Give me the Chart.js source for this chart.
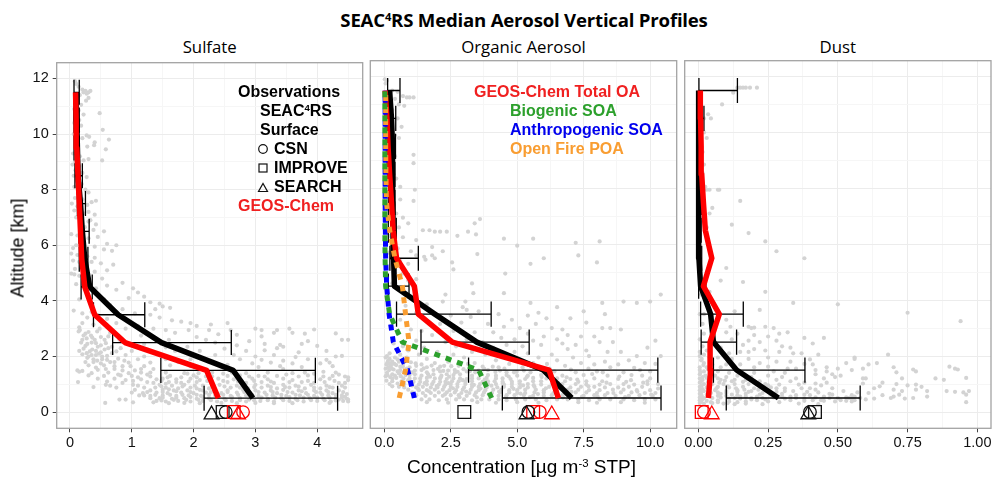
<!DOCTYPE html>
<html>
<head>
<meta charset="utf-8">
<script src="https://cdn.jsdelivr.net/npm/chart.js@4"></script>
<style>
    body { margin: 0; background: #fff; width: 992px; height: 478px; overflow: hidden; position: relative; }
    canvas { position: absolute; top: 50px; }
    .txt { position: absolute; white-space: nowrap; line-height: 1; }
    .title { font: bold 18.6px "Open Sans"; color: #000; left: 524px; top: 7px; transform: translateX(-50%); letter-spacing: -0.2px; }
    .title sup, .leg sup { font-size: 60%; line-height: 0; vertical-align: 0.55em; }
    .panelTitle { font: 16.8px "Open Sans"; color: #000; top: 35px; transform: translateX(-50%); }
    .xTitle { font: 19px "Liberation Sans"; color: #000; left: 521.5px; top: 456px; transform: translateX(-50%); }
    .xTitle sup { font-size: 60%; line-height: 0; vertical-align: 0.5em; }
    .yTitle { font: 18px "Liberation Sans"; color: #000; left: 18px; top: 248px; transform: translate(-50%, -50%) rotate(-90deg); }
    .leg { font: bold 16px "Liberation Sans"; color: #000; transform: translateY(-50%); }
    #legendMarks { position: absolute; left: 0; top: 0; }
</style>
</head>
<body>
<div class="txt title">SEAC<sup>4</sup>RS Median Aerosol Vertical Profiles</div>
<div class="txt panelTitle" style="left:209.7px">Sulfate</div>
<div class="txt panelTitle" style="left:523.5px">Organic Aerosol</div>
<div class="txt panelTitle" style="left:837.8px">Dust</div>
<canvas id="sulfateChart" width="368" height="428" style="left:0"></canvas>
<canvas id="organicChart" width="312" height="428" style="left:368px"></canvas>
<canvas id="dustChart" width="312" height="428" style="left:680px"></canvas>
<div class="txt xTitle">Concentration [µg m<sup>-3</sup> STP]</div>
<div class="txt yTitle">Altitude [km]</div>

<div class="txt leg" style="left:238px;top:92px">Observations</div>
<div class="txt leg" style="left:260px;top:111px">SEAC<sup>4</sup>RS</div>
<div class="txt leg" style="left:260px;top:130px">Surface</div>
<div class="txt leg" style="left:274px;top:149px">CSN</div>
<div class="txt leg" style="left:274px;top:168px">IMPROVE</div>
<div class="txt leg" style="left:274px;top:187px">SEARCH</div>
<div class="txt leg" style="left:238px;top:206px;color:#f02020">GEOS-Chem</div>
<div class="txt leg" style="left:474px;top:92px;color:#f02020">GEOS-Chem Total OA</div>
<div class="txt leg" style="left:510px;top:111px;color:#2ca02c">Biogenic SOA</div>
<div class="txt leg" style="left:510px;top:130px;color:#0000ee">Anthropogenic SOA</div>
<div class="txt leg" style="left:510px;top:149px;color:#f99d31">Open Fire POA</div>
<svg id="legendMarks" width="992" height="478" fill="none" stroke="#111" stroke-width="1.2">
    <circle cx="263" cy="149" r="4.3"></circle>
    <rect x="259" y="164" width="8" height="8"></rect>
    <path d="M258.5 191.5 L267.5 191.5 L263 183.5 Z"></path>
</svg>

<script>
const altitudes = [0.5, 1.5, 2.5, 3.5, 4.5, 5.5, 6.5, 7.5, 8.5, 9.5, 10.5, 11.5];

const sulfateObs = [2.96, 2.64, 1.48, 0.78, 0.32, 0.24, 0.2, 0.17, 0.13, 0.12, 0.11, 0.1];
const sulfateModel = [2.4, 2.21, 0.89, 0.4, 0.24, 0.19, 0.17, 0.15, 0.13, 0.11, 0.1, 0.09];
const sulfateLow = [2.17, 1.47, 0.69, 0.38, 0.18, 0.15, 0.145, 0.12, 0.08, 0.065, 0.065, 0.065];
const sulfateHigh = [4.33, 3.97, 2.61, 1.21, 0.36, 0.29, 0.31, 0.25, 0.2, 0.15, 0.15, 0.15];

const organicObs = [7.05, 5.98, 3.48, 1.9, 0.38, 0.35, 0.33, 0.32, 0.32, 0.3, 0.27, 0.2];
const organicModel = [6.55, 6.2, 2.56, 1.28, 1.13, 0.46, 0.33, 0.27, 0.2, 0.14, 0.1, 0.03];
const organicLow = [4.44, 3.17, 1.38, 0.46, 0.15, 0.21, 0.15, 0.15, 0.15, 0.18, 0.21, 0.125];
const organicHigh = [10.41, 10.29, 5.45, 4.02, 0.93, 1.28, 0.45, 0.4, 0.4, 0.42, 0.43, 0.59];
const biogenicSoa = [4.04, 3.55, 0.68, 0.2, 0.05, 0.03, 0.02, 0.02, 0.02, 0.02, 0.02, 0.02];
const anthroSoa = [1.13, 0.88, 0.34, 0.18, 0.09, 0.05, 0.04, 0.03, 0.03, 0.03, 0.03, 0.03];
const fireOa = [0.56, 0.8, 0.93, 0.8, 0.68, 0.4, 0.2, 0.08, 0.06, 0.05, 0.05, 0.05];

const dustObs = [0.287, 0.137, 0.054, 0.044, 0.008, 0.002, 0.001, 0.001, 0.001, 0.001, 0.001, 0.001];
const dustModel = [0.036, 0.044, 0.042, 0.075, 0.018, 0.048, 0.025, 0.018, 0.012, 0.01, 0.008, 0.007];
const dustLow = [0.1, 0.054, 0.01, 0.008, 0.001, 0.001, 0.001, 0.001, 0.001, 0.001, 0.002, 0.002];
const dustHigh = [0.58, 0.382, 0.137, 0.161, 0.027, 0.012, 0.01, 0.012, 0.012, 0.014, 0.02, 0.14];

// surface sites, order is CSN, IMPROVE, SEARCH
const sulfateSurfaceObs = [2.52, 2.47, 2.29];
const sulfateSurfaceModel = [2.8, 2.65, 2.72];
const organicSurfaceObs = [5.42, 3.01, 5.35];
const organicSurfaceModel = [5.85, 5.6, 6.3];
const dustSurfaceObs = [0.4, 0.418, 0.394];
const dustSurfaceModel = [0.02, 0.012, 0.048];

const sulfateTicks = [0, 0.5, 1, 1.5, 2, 2.5, 3, 3.5, 4, 4.5];
const organicTicks = [0, 1.25, 2.5, 3.75, 5, 6.25, 7.5, 8.75, 10];
const dustTicks = [0, 0.125, 0.25, 0.375, 0.5, 0.625, 0.75, 0.875, 1];
const altitudeTicks = [0, 1, 2, 3, 4, 5, 6, 7, 8, 9, 10, 11, 12];

// grey flight samples, [concentration, altitude]
const sulfateSamples = [
    [0.08,11.9],[0.1,11.8],[0.14,11.7],[0.2,11.6],[0.25,11.55],[0.3,11.5],[0.33,11.55],[0.27,11.45],[0.22,11.5],[0.16,11.4],[0.12,11.3],[0.3,11.3],[0.26,11.2],[0.1,11.1],[0.18,11.05],[0.07,10.9],[0.14,10.85],[0.48,10.75],[0.22,10.7],[0.1,10.6],[0.15,10.5],[0.07,10.4],[0.18,10.3],[0.09,10.2],[0.53,10.15],[0.13,10.1],[0.06,10],[0.27,9.95],[0.31,9.9],[0.63,9.8],[0.2,9.85],[0.4,9.7],[0.39,9.6],[0.28,9.55],[0.58,9.45],[0.1,9.4],[0.05,9.3],[0.16,9.2],[0.3,9.1],[0.52,9.05],[0.08,9],[0.22,9.05],
    [0.04,8.9],[0.15,8.85],[0.09,8.7],[0.2,8.6],[0.06,8.5],[0.27,8.45],[0.12,8.3],[0.19,8.2],[0.07,8.1],[0.25,8],[0.3,7.9],[0.13,7.85],[0.08,7.7],[0.2,7.65],[0.42,7.6],[0.35,7.55],[0.03,7.5],[0.28,7.45],[0.12,7.4],[0.07,7.25],[0.3,7.2],[0.22,7.15],[0.4,7.1],[0.1,7],[0.17,6.9],[0.3,6.85],[0.42,6.75],[0.24,6.65],[0.38,6.55],[0.55,6.5],[0.02,6.4],[0.12,6.35],[0.45,6.3],[0.3,6.25],[0.2,6.2],[0.6,6.05],[0.75,6],[0.1,6],[0.4,5.95],[0.05,5.9],[0.55,5.85],
    [0.33,6.9],[0.68,5.8],[0.02,5.7],[0.12,5.65],[0.28,5.6],[0.4,5.55],[0.05,5.45],[0.15,5.4],[0.35,5.4],[0.5,5.35],[0.7,5.3],[0.25,5.2],[0.08,5.15],[0.6,5.1],[0.4,5.05],[0.02,4.98],[0.07,4.95],[0.15,4.9],[0.3,4.85],[0.52,4.8],[0.22,4.7],[0.85,4.65],[0.1,4.6],[0.6,4.55],[0.42,4.45],[1.02,4.45],[0.75,4.4],[1.1,4.3],[1.2,4.15],[0.95,4.1],[0.3,4.2],[0.15,4.05],[0.55,4.05],[1.3,3.95],[1.45,3.9],[0.65,3.85],[1.5,3.8],[1.38,3.7],[0.85,3.7],[1.62,3.75],[0.35,3.6],[0.06,3.65],
    [0.2,3.55],[0.45,3.5],[1.05,3.55],[1.3,3.5],[0.28,3.4],[0.6,3.35],[1.45,3.4],[1.65,3.3],[1.8,3.25],[0.2,3.2],[0.38,3.15],[0.75,3.2],[1.1,3.1],[1.95,3.2],[2.05,3.1],[2.28,3.15],[2.55,3.2],[0.15,3.05],[0.48,3],[0.9,3],[1.35,3],[1.55,2.95],[1.92,2.95],[2.25,2.95],[2.6,2.95],[3,3],[3.1,2.95],[3.35,2.95],[3.55,3],[3.95,2.97],[0.14,2.9],[0.3,2.88],[0.65,2.85],[1.7,2.85],[2.4,2.8],[2.7,2.78],[3.3,2.85],[3.6,2.85],[3.8,2.82],[4.3,2.83],[0.22,2.75],[0.5,2.7],[1.15,2.75],[2.05,2.7],[3.1,2.72],
    [0.2,2.6],[0.4,2.6],[0.8,2.6],[1.6,2.6],[2.2,2.6],[2.9,2.55],[3.85,2.55],[4.4,2.6],[4.5,2.6],[0.35,2.5],[0.58,2.48],[1.2,2.45],[2.35,2.5],[2.7,2.4],[3.15,2.45],[3.45,2.35],[3.75,2.45],[0.25,2.38],[0.45,2.35],[0.68,2.35],[1.55,2.33],[1.9,2.35],[2.5,2.28],[3.35,2.3],[3.4,2.42],[4.0,2.38],[0.15,2.2],[0.32,2.18],[0.5,2.15],[0.75,2.18],[1,2.2],[1.35,2.15],[1.7,2.2],[2.1,2.2],[2.85,2.2],[3.15,2.22],[3.7,2.15],[4.15,2.2],[0.2,2.08],[0.42,2.05],[0.6,2.02],[0.9,2.05],[1.2,2],[2.35,2.05],[2.65,2.05],[3,2],[3.3,2.05],[3.65,1.98],[4.3,2],[4.4,2.02],
    [0.28,1.95],[0.52,1.9],[0.78,1.92],[1.1,1.9],[1.55,1.9],[1.95,1.9],[2.75,1.9],[3.1,1.88],[3.45,1.85],[3.85,1.9],[4.15,1.88],[0.38,1.8],[0.65,1.8],[0.95,1.78],[1.3,1.78],[1.75,1.8],[2.25,1.8],[2.95,1.75],[3.25,1.78],[3.6,1.75],[4.05,1.75],[4.2,1.78],[0.3,1.68],[0.55,1.68],[0.85,1.65],[1.2,1.65],[1.62,1.68],[1.95,1.65],[2.55,1.7],[3.05,1.62],[3.4,1.65],[3.75,1.62],[4.25,1.65],[0.12,1.5],[0.2,1.48],[0.45,1.52],[0.72,1.55],[1.05,1.5],[1.35,1.55],[3.45,1.55],[0.15,1.45],[0.35,1.4],[0.62,1.42],[1.15,1.42],[1.55,1.42],[1.85,1.4],[2.3,1.42],[2.85,1.4],[3.2,1.42],[3.6,1.4],[4.1,1.45],[4.3,1.42],
    [0.3,1.32],[0.55,1.3],[0.82,1.32],[1.0,1.3],[1.3,1.28],[1.62,1.3],[2,1.32],[2.2,1.28],[2.55,1.3],[2.75,1.32],[3.05,1.3],[3.35,1.3],[3.7,1.28],[3.85,1.32],[4.25,1.3],[4.45,1.28],[0.45,1.2],[0.72,1.2],[1.15,1.18],[1.5,1.2],[1.72,1.18],[1.95,1.2],[2.1,1.15],[2.4,1.2],[2.65,1.18],[2.95,1.2],[3.2,1.18],[3.45,1.2],[3.6,1.15],[4.05,1.18],[4.2,1.2],[4.5,1.15],[0.13,1.08],[0.6,1.1],[0.85,1.05],[1.25,1.08],[1.6,1.08],[1.8,1.05],[2.05,1.08],[2.3,1.05],[2.55,1.08],[2.85,1.05],[3.1,1.08],[3.3,1.05],[3.75,1.08],[3.95,1.05],[4.35,1.05],[0.58,0.98],[0.65,0.95],[1.02,0.98],[1.1,0.95],[1.45,0.98],[1.65,0.95],[1.85,0.98],[2.15,0.95],[2.42,0.98],[2.7,0.95],[3,0.98],[3.2,0.95],[3.45,0.98],[3.65,0.95],[3.9,0.98],[4.15,0.95],[4.4,0.95],
    [0.38,0.9],[0.75,0.88],[1.2,0.88],[1.55,0.88],[1.75,0.85],[1.95,0.88],[2.25,0.85],[2.6,0.88],[2.88,0.85],[3.1,0.88],[3.35,0.85],[3.55,0.88],[3.8,0.85],[4.05,0.85],[4.25,0.88],[1.05,0.8],[1.3,0.78],[1.5,0.8],[1.68,0.78],[1.9,0.78],[2.1,0.8],[2.35,0.78],[2.55,0.78],[2.8,0.8],[3,0.78],[3.25,0.78],[3.45,0.8],[3.7,0.78],[3.95,0.78],[4.15,0.78],[4.35,0.78],[1.0,0.7],[1.18,0.68],[1.4,0.7],[1.58,0.68],[1.8,0.7],[2,0.68],[2.2,0.7],[2.45,0.68],[2.7,0.7],[2.92,0.68],[3.15,0.7],[3.35,0.68],[3.6,0.7],[3.82,0.68],[4.05,0.7],[4.25,0.68],[1.12,0.6],[1.3,0.58],[1.5,0.6],[1.72,0.58],[1.92,0.6],[2.12,0.58],[2.35,0.6],[2.6,0.58],[2.85,0.6],[3.05,0.58],[3.28,0.6],[3.5,0.58],[3.72,0.6],[3.95,0.58],[4.18,0.6],[4.4,0.6],
    [1.45,0.5],[1.65,0.48],[1.85,0.5],[2.05,0.48],[2.25,0.5],[2.5,0.48],[2.75,0.5],[3.2,0.48],[3.42,0.5],[3.65,0.48],[3.88,0.5],[4.1,0.48],[4.3,0.5],[4.48,0.48],[1.4,0.4],[1.55,0.38],[1.75,0.4],[1.95,0.38],[2.15,0.4],[2.38,0.38],[2.62,0.4],[2.85,0.38],[3.08,0.4],[3.3,0.38],[3.55,0.4],[3.78,0.38],[4.0,0.4],[4.22,0.38],[4.42,0.4],[4.5,0.45],[4.35,0.45],[4.45,0.55],[1.35,0.35],[1.6,0.32],[1.85,0.33],[2.1,0.32],[2.45,0.33],[2.7,0.32],[3.0,0.33],[3.3,0.32],[3.6,0.32],[4.2,0.33],[0.57,0.33],[0.8,0.45],[0.9,0.45],[1.02,0.35],[1.3,0.5],[1.2,0.6],
    [0.16,2.95],[0.25,2.82],[0.34,2.75],[0.44,2.9],[0.27,2.65],[0.36,2.68],[0.56,2.6],[0.62,2.72],[0.18,2.5],[0.28,2.45],[0.42,2.48],[0.5,2.4],[0.62,2.3],[0.22,2.28],[0.36,2.25],[0.42,2.2],[0.56,2.25],[0.27,2.12],[0.35,2.05],[0.47,2.1],[0.68,2.12],[0.82,2.3],[0.3,2],[0.52,2.0],[0.38,1.9],[0.44,1.85],[0.6,1.88],[0.72,1.8],[0.88,1.85],[0.25,1.8],[0.5,1.75],[0.98,1.65],[0.72,1.65],[0.42,1.6],[0.58,1.55],[0.85,1.5],[1.15,1.55],[1.3,1.42],[0.95,1.4],[0.78,1.35],[1.1,1.25],[1.4,1.18],[1.25,1.35],[0.9,1.15],[1.02,1.12],[1.35,1.05],[1.48,1.12],[1.58,1.25],[1.8,1.25],[1.9,1.38],[2.08,1.4],[2.05,1.25],[2.3,1.28],[2.48,1.38],[2.62,1.42],[2.9,1.28],[3.15,1.28],[3.5,1.35],[3.8,1.42],[3.95,1.38],[4.1,1.28],[4.35,1.35],[4.5,1.25],[1.55,1.02],[1.72,1.08],[1.92,1.1],[2.22,1.12],[2.48,1.12],[2.72,1.1],[2.98,1.12],[3.25,1.1],[3.55,1.08],[3.85,1.12],[4.12,1.08],[4.28,1.12],[4.45,1.05],
    [1.38,0.88],[1.48,0.92],[1.6,0.82],[1.82,0.92],[2.02,0.95],[2.05,0.85],[2.3,0.92],[2.5,0.92],[2.75,0.88],[2.98,0.9],[3.25,0.9],[3.48,0.9],[3.7,0.92],[3.95,0.88],[4.2,0.9],[4.45,0.88],[1.25,0.72],[1.5,0.72],[1.72,0.75],[1.95,0.72],[2.15,0.78],[2.28,0.72],[2.55,0.72],[2.82,0.72],[3.05,0.72],[3.28,0.72],[3.52,0.72],[3.75,0.75],[3.98,0.72],[4.18,0.72],[4.42,0.72],[1.38,0.62],[1.62,0.62],[1.82,0.62],[2.05,0.62],[2.25,0.62],[2.48,0.62],[2.72,0.62],[2.95,0.62],[3.18,0.62],[3.42,0.62],[3.65,0.62],[3.85,0.62],[4.08,0.62],[4.3,0.62],[4.48,0.65],[1.5,0.52],[1.72,0.52],[1.95,0.54],[2.15,0.54],[2.4,0.54],[2.62,0.54],[2.9,0.45],[3.1,0.52],[3.32,0.52],[3.55,0.54],[3.78,0.52],[4,0.52],[4.2,0.52],[4.4,0.52],[1.48,0.42],[1.68,0.44],[1.88,0.44],[2.08,0.44],[2.28,0.43],[2.52,0.43],[2.75,0.43],[2.98,0.43],[3.2,0.43],[3.45,0.43],[3.68,0.43],[3.9,0.43],[4.12,0.43],[4.3,0.42],[4.5,0.38]
];

const organicSamples = [
    [0.02,11.9],[0.1,11.85],[0.05,11.75],[0.3,11.5],[0.5,11.45],[0.7,11.3],[0.85,11.25],[1.1,11.25],[0.4,11.2],[0.95,11.25],[0.2,11.05],[0.55,11],[0.75,10.95],[0.3,10.8],[0.15,10.75],[0.5,10.5],[0.65,10.2],[0.25,10.1],[0.4,9.9],[0.55,9.8],[0.2,9.7],[0.3,9.5],[1.1,9.2],[0.4,9.15],[1.1,8.9],[0.25,8.7],[0.35,8.5],[0.15,8.4],[0.45,8.35],[0.2,8.2],[0.6,8.05],[1.15,7.95],[0.25,7.8],[0.6,7.6],[1.1,7.55],[0.35,7.4],[0.2,7.25],[0.45,7.1],[0.7,6.95],[3.6,6.9],[0.35,6.8],[0.9,6.75],[3.4,6.75],[0.55,6.6],[1.45,6.5],[1.7,6.5],[1.9,6.45],[2.1,6.45],[2.35,6.45],[3.15,6.45],[3.45,6.35],
    [0.2,6.3],[0.7,6.25],[1.2,6.15],[2.75,6.3],[4.5,6.2],[5.6,6.2],[1.8,5.9],[0.5,5.85],[1,5.75],[0.15,5.7],[7.2,6.05],[2.2,5.75],[5,5.95],[8.1,6.1],[1.2,5.6],[1.5,5.55],[1.9,5.5],[1.55,5.45],[1.8,5.6],[0.6,5.4],[0.9,5.3],[2.55,5.35],[2.6,5.1],[3.5,5.65],[7.3,5.6],[6,5.5],[0.4,5.1],[0.7,4.95],[4.55,4.95],[5.5,5.3],[8,5.35],[0.3,4.6],[0.9,4.7],[1.2,4.75],[3.3,4.6],[3.35,4.25],[1.1,4.45],[0.6,4.35],[2.3,4.2],[3.05,3.95],[2.2,3.95],[1.6,3.85],[2.95,3.75],[3.1,3.65],[3.55,3.6],[4.5,4.25],[5.5,3.9],[6.5,3.75],[7.5,3.6],[5.8,3.55],[9,3.95],[9.5,3.9],[10,3.95],[10.4,4.2],[8.2,3.9],
    [0.8,3.8],[1.2,3.55],[1.9,3.5],[2.5,3.45],[3.25,3.4],[4.3,3.5],[4.8,3.3],[5.4,3.45],[6.1,3.35],[7,3.35],[7.6,3.2],[8.3,3.5],[0.6,3.3],[1.6,3.25],[2.1,3.15],[2.9,3.2],[3.9,3.15],[4.5,3.05],[5.1,3],[5.7,3.15],[6.3,3],[6.7,2.95],[8.2,3],[8.5,3],[8.9,2.95],[0.3,3.05],[1,2.95],[1.4,2.9],[2.6,2.9],[3.4,2.85],[4.1,2.85],[5.4,2.8],[6,2.7],[6.9,2.75],[7.4,2.7],[7.9,2.7],[0.5,2.8],[0.9,2.7],[1.8,2.75],[3.1,2.6],[4.4,2.65],[4.9,2.6],[5.6,2.55],[6.5,2.6],[8.1,2.5],[8.6,2.5],[1.2,2.55],[2.3,2.5],[3.7,2.5],[4.6,2.4],[5.2,2.35],[5.9,2.4],[6.7,2.45],[7.2,2.4],[10.2,2.55],
    [0.35,2.45],[0.7,2.35],[1.5,2.3],[2.7,2.35],[4.1,2.3],[6.9,2.25],[7.6,2.2],[8.4,2.15],[9.9,2.3],[0.9,2.2],[2,2.15],[3.3,2.15],[4.9,2.15],[5.4,2.1],[6.3,2.05],[8.9,2.15],[0.2,2.1],[0.6,2.05],[1.3,2.05],[2.6,2.05],[3.8,2.05],[4.6,2],[5.8,1.95],[7.1,1.95],[7.7,2],[9.5,2],[10.4,2],[0.1,2],[0.4,1.95],[0.85,1.95],[1.6,1.9],[3,1.95],[4.2,1.85],[5.1,1.85],[6.5,1.85],[8.3,1.8],[9.2,1.85],[0.15,1.85],[0.3,1.8],[0.55,1.8],[1,1.78],[1.9,1.75],[2.4,1.8],[3.4,1.75],[4.7,1.72],[5.6,1.75],[7.4,1.75],[7.9,1.7],[8.8,1.7],[9.8,1.75],[10.2,1.72],
    [0.08,1.7],[0.25,1.65],[0.45,1.68],[0.7,1.62],[1.2,1.65],[1.6,1.6],[2.1,1.62],[2.8,1.65],[3.7,1.62],[4.3,1.6],[5.2,1.6],[6.8,1.65],[8.5,1.6],[9.4,1.58],[0.05,1.55],[0.18,1.5],[0.35,1.52],[0.6,1.5],[0.9,1.48],[1.4,1.5],[1.85,1.5],[2.4,1.48],[3.1,1.45],[4.6,1.42],[5.5,1.42],[6.4,1.45],[7.2,1.42],[8,1.45],[9,1.42],[10,1.45],[0.1,1.4],[0.3,1.35],[0.55,1.38],[0.8,1.32],[1.15,1.35],[1.65,1.35],[2.15,1.3],[2.6,1.32],[3.3,1.3],[3.9,1.32],[4.2,1.3],[5,1.3],[5.9,1.32],[6.7,1.3],[7.5,1.32],[8.4,1.3],[9.3,1.32],[9.7,1.3],[0.05,1.28],[0.22,1.25],[0.45,1.22],[0.95,1.2],[1.35,1.2],[1.9,1.2],[2.35,1.18],[2.85,1.2],[3.55,1.2],[4.45,1.2],[5.3,1.18],[6.1,1.2],[7,1.18],[7.9,1.2],[8.8,1.18],[10,1.2],
    [0.08,1.12],[0.3,1.1],[0.65,1.1],[1.1,1.08],[1.6,1.1],[2.1,1.08],[2.55,1.1],[3.05,1.08],[3.7,1.08],[4.15,1.1],[4.8,1.08],[5.6,1.1],[6.4,1.08],[7.3,1.08],[8.2,1.1],[9.1,1.08],[9.9,1.1],[0.2,1],[0.75,1],[1.3,0.98],[1.8,1],[2.3,0.98],[2.75,1],[3.3,0.98],[3.9,1],[4.5,0.98],[5.1,1],[5.9,0.98],[6.7,1],[7.6,0.98],[8.5,1],[9.4,0.98],[10.3,1],[0.3,0.92],[0.55,0.9],[1.45,0.9],[2,0.88],[2.5,0.9],[3,0.88],[3.55,0.9],[4.25,0.88],[4.8,0.9],[5.4,0.88],[6.2,0.9],[7,0.88],[7.9,0.9],[8.8,0.88],[9.7,0.9],[0.9,0.8],[1.6,0.78],[2.2,0.8],[2.7,0.78],[3.25,0.8],[3.8,0.78],[4.4,0.8],[5,0.78],[5.7,0.8],[6.5,0.78],[7.3,0.8],[8.1,0.78],[9,0.8],[10,0.78],
    [1.05,0.7],[1.75,0.68],[2.35,0.7],[2.9,0.68],[3.45,0.7],[4.05,0.68],[4.7,0.7],[5.3,0.68],[6,0.7],[6.8,0.68],[7.6,0.7],[8.4,0.68],[9.3,0.7],[10.2,0.68],[1.2,0.6],[1.9,0.58],[2.5,0.6],[3.1,0.58],[3.7,0.6],[4.3,0.58],[4.9,0.6],[5.6,0.58],[6.3,0.6],[7,0.58],[7.9,0.6],[8.7,0.58],[9.6,0.6],[1.4,0.45],[2.05,0.42],[2.7,0.45],[3.3,0.42],[3.95,0.45],[4.6,0.42],[5.3,0.45],[6.1,0.42],[6.9,0.45],[7.7,0.42],[8.5,0.45],[9.4,0.42],[10.2,0.45],[1.6,0.35],[2.4,0.33],[3.5,0.35],[4.2,0.33],[5,0.35],[5.8,0.33],[7.3,0.35],[8,0.33],[8.9,0.35],[9.8,0.33],
    [0.05,1.95],[0.2,1.9],[0.5,1.88],[0.7,1.72],[0.12,1.78],[0.2,1.72],[0.38,1.72],[0.6,1.62],[0.95,1.6],[1.4,1.7],[2.25,1.65],[3.25,1.6],[0.15,1.6],[0.28,1.55],[0.5,1.45],[0.72,1.42],[1.15,1.48],[1.6,1.42],[2.1,1.45],[2.65,1.5],[3.55,1.48],[3.9,1.5],[4.35,1.48],[0.12,1.32],[0.4,1.3],[0.95,1.32],[1.4,1.3],[1.85,1.35],[2.35,1.35],[2.85,1.35],[3.6,1.35],[4.6,1.32],[5.4,1.3],[0.3,1.2],[0.72,1.2],[1.15,1.2],[1.6,1.22],[2.1,1.2],[2.6,1.2],[3.1,1.18],[3.3,1.2],[3.85,1.22],[4.2,1.2],[4.75,1.18],[5.6,1.22],[6.5,1.2],[0.5,1.02],[1,1.08],[1.35,1.08],[1.85,1.08],[2.3,1.08],[2.8,1.1],[3.3,1.1],[3.9,1.1],[4.45,1.08],[5.1,1.1],[5.9,1.1],[6.8,1.1],[7.6,1.1],[1.05,0.95],[1.6,0.98],[2.05,0.98],[2.5,1],[3.05,1],[3.6,1],[4.2,1],[4.8,1],[5.4,1],[6.3,1],[7.2,1],[8.1,0.98],[9,1],[9.9,1],
    [0.75,0.88],[1.2,0.88],[1.75,0.88],[2.25,0.9],[2.75,0.9],[3.3,0.9],[3.85,0.88],[4.5,0.9],[5.1,0.88],[5.65,0.9],[6.6,0.88],[7.4,0.9],[8.3,0.88],[9.2,0.9],[1.3,0.78],[1.9,0.8],[2.45,0.78],[2.95,0.8],[3.55,0.78],[4.1,0.8],[4.7,0.78],[5.3,0.8],[6,0.78],[6.9,0.8],[7.7,0.78],[8.6,0.8],[9.5,0.78],[1.45,0.68],[2.05,0.7],[2.65,0.7],[3.2,0.68],[3.75,0.7],[4.35,0.7],[5,0.68],[5.65,0.7],[6.4,0.68],[7.2,0.7],[8,0.68],[8.9,0.7],[9.8,0.68],[1.55,0.58],[2.2,0.58],[2.8,0.6],[3.4,0.6],[4,0.6],[4.6,0.6],[5.25,0.6],[6,0.58],[6.7,0.6],[7.5,0.58],[8.3,0.6],[9.2,0.58],[10.1,0.58],[1.7,0.45],[2.35,0.45],[3,0.45],[3.65,0.45],[4.3,0.45],[4.95,0.45],[5.7,0.45],[6.5,0.45],[7.3,0.45],[8.1,0.45],[9,0.45],[9.8,0.45],
    [0.9,1.14],[1.27,0.83],[1.52,1.03],[1.68,0.74],[1.97,0.93],[2.12,1.24],[2.28,0.63],[2.41,1.03],[2.58,0.85],[2.66,1.41],[2.83,0.53],[2.95,1.14],[3.08,0.73],[3.22,1.46],[3.37,0.97],[3.48,0.52],[3.62,0.84],[3.78,1.16],[3.93,0.63],[4.03,0.94],[4.18,1.43],[4.32,0.73],[4.46,1.03],[4.58,0.53],[4.68,1.27],[4.86,0.83],[4.98,1.44],[5.12,0.66],[5.22,0.95],[5.36,1.25],[5.48,0.53],[5.62,0.96],[5.78,0.64],[5.92,1.25],[6.08,0.85],[6.22,1.55],[6.36,0.68],[6.54,1.04],[6.72,0.52],[6.86,1.24],[7.04,0.72],[7.26,1.16],[7.44,0.55],[7.68,0.92],[7.82,1.36],[8.02,0.56],[8.36,1.05],[8.62,0.68],[8.84,1.27],[9.06,0.53],[9.28,1.14],[9.52,0.73],[9.74,1.05],[10.04,0.62],[10.3,0.84],[0.28,1.75],[0.62,1.28],[0.85,1.55],[1.05,1.42],[1.18,1.74],[1.48,1.56],[1.72,1.26],[1.78,1.66],[2.02,1.54],[2.22,1.47],[2.44,1.26],[2.52,1.64],[2.76,1.44],[2.98,1.53],[3.15,1.72],[3.42,1.42],[3.76,1.54],[4.08,1.62],[4.52,1.55],[4.88,1.42],[5.25,1.48],[5.72,1.58],[6.12,1.72],[7.02,1.52],[7.68,1.55],[8.22,1.42],[9.62,1.5]
];

const dustSamples = [
    [0.14,11.6],[0.15,11.6],[0.16,11.6],[0.17,11.6],[0.185,11.6],[0.21,11.6],[0.125,11.42],[0.085,11],[0.035,10.65],[0.045,10.5],[0.02,10.5],[0.02,10],[0.03,9.8],[0.015,9.3],[0.02,8.85],[0.015,8.55],[0.025,8.05],[0.03,7.95],[0.04,7.95],[0.07,7.95],[0.075,7.95],[0.15,7.55],[0.05,7.3],[0.04,7.1],[0.02,7],[0.03,6.6],[0.12,6.7],[0.18,6.4],[0.24,6.1],[0.38,5.5],[0.28,5.75],[0.05,5.5],[0.1,5.15],[0.03,5],[0.08,4.7],[0.16,4.65],[0.24,4.3],[0.04,4.3],[0.01,4.2],[0.34,3.9],[0.5,3.85],[0.75,3.55],[0.94,3.25],[0.22,3.65],[0.13,3.6],[0.005,3.5],[0.02,3.5],
    [0.1,3.3],[0.18,3.05],[0.24,3.05],[0.27,3],[0.015,3.15],[0.06,3.1],[0.115,3.05],[0.19,3],[0.2,3.02],[0.29,2.8],[0.32,2.85],[0.38,2.65],[0.45,2.65],[0.1,2.85],[0.14,2.8],[0.2,2.75],[0.25,2.7],[0.28,2.55],[0.41,2.45],[0.22,2.5],[0.18,2.55],[0.16,2.4],[0.3,2.35],[0.33,2.3],[0.12,2.6],[0.02,2.8],[0.005,2.6],[0.015,2.35],[0.06,2.5],[0.08,2.3],[0.2,2.25],[0.24,2.2],[0.29,2.15],[0.34,2.1],[0.37,2.1],[0.43,2.05],[0.68,2.05],[0.56,1.95],[0.11,2.1],[0.15,2.15],[0.18,2.15],[0.005,2.15],[0.02,2.05],[0.03,2.2],
    [0.005,2],[0.04,1.95],[0.07,1.95],[0.12,1.9],[0.18,1.9],[0.25,1.95],[0.4,1.88],[0.56,1.9],[0.22,1.75],[0.28,1.8],[0.33,1.8],[0.38,1.72],[0.41,1.7],[0.53,1.75],[0.61,1.7],[0.64,1.75],[0.9,1.62],[0.92,1.55],[0.93,1.52],[0.7,1.6],[0.46,1.6],[0.01,1.85],[0.02,1.75],[0.05,1.7],[0.1,1.7],[0.15,1.7],[0.005,1.6],[0.03,1.6],[0.08,1.6],[0.13,1.55],[0.2,1.6],[0.25,1.62],[0.32,1.55],[0.35,1.55],[0.42,1.5],[0.46,1.45],[0.5,1.55],[0.55,1.5],[0.59,1.55],[0.71,1.42],[0.77,1.52],[0.78,1.45],[0.005,1.5],[0.02,1.45],[0.04,1.4],[0.07,1.45],
    [0.11,1.4],[0.15,1.45],[0.2,1.4],[0.27,1.45],[0.31,1.4],[0.42,1.35],[0.48,1.35],[0.49,1.25],[0.51,1.3],[0.59,1.2],[0.6,1.2],[0.73,1.2],[0.85,1.2],[0.88,1.15],[0.96,1.22],[0.005,1.35],[0.025,1.3],[0.06,1.3],[0.1,1.25],[0.14,1.3],[0.19,1.25],[0.25,1.3],[0.3,1.25],[0.35,1.2],[0.45,1.2],[0.005,1.2],[0.015,1.15],[0.04,1.15],[0.08,1.15],[0.12,1.1],[0.17,1.15],[0.22,1.1],[0.28,1.15],[0.33,1.1],[0.38,1.05],[0.42,1.02],[0.46,1.05],[0.59,1.02],[0.66,1.05],[0.71,1],[0.75,0.95],[0.78,0.98],[0.8,0.9],[0.005,1.05],[0.02,1],[0.05,1],[0.09,1],[0.13,1],[0.18,1],[0.24,1],[0.29,0.98],[0.36,0.98],[0.44,0.95],
    [0.005,0.9],[0.03,0.88],[0.07,0.9],[0.11,0.88],[0.16,0.9],[0.2,0.85],[0.26,0.88],[0.31,0.85],[0.37,0.85],[0.42,0.8],[0.48,0.85],[0.52,0.75],[0.63,0.85],[0.65,0.92],[0.7,0.8],[0.73,0.75],[0.78,0.8],[0.82,0.75],[0.89,0.75],[0.92,0.72],[0.95,0.7],[0.97,0.75],[0.005,0.78],[0.02,0.75],[0.06,0.78],[0.1,0.75],[0.14,0.78],[0.19,0.75],[0.24,0.78],[0.28,0.72],[0.34,0.75],[0.39,0.72],[0.43,0.7],[0.47,0.65],[0.55,0.6],[0.57,0.7],[0.61,0.68],[0.66,0.6],[0.7,0.55],[0.72,0.62],[0.005,0.65],[0.03,0.62],[0.08,0.65],[0.12,0.62],[0.17,0.65],[0.22,0.62],[0.3,0.65],[0.35,0.6],[0.4,0.6],[0.45,0.55],[0.5,0.5],[0.53,0.52],
    [0.005,0.52],[0.02,0.5],[0.05,0.5],[0.08,0.52],[0.13,0.5],[0.15,0.48],[0.19,0.5],[0.23,0.5],[0.27,0.52],[0.31,0.48],[0.35,0.5],[0.38,0.48],[0.42,0.52],[0.47,0.5],[0.55,0.48],[0.58,0.5],[0.6,0.45],[0.63,0.48],[0.69,0.5],[0.74,0.48],[0.77,0.5],[0.82,0.55],[0.96,0.62],[0.005,0.42],[0.03,0.4],[0.07,0.42],[0.11,0.38],[0.14,0.35],[0.17,0.38],[0.21,0.42],[0.25,0.38],[0.29,0.35],[0.33,0.42],[0.38,0.4],[0.44,0.42],[0.49,0.38],[0.53,0.4],[0.56,0.42],[0.005,0.32],[0.02,0.3],[0.05,0.32],[0.09,0.3],[0.13,0.28],[0.17,0.3],[0.23,0.28],[0.36,0.3],[0.43,0.28],[0.96,0.35],
    [0.012,1.9],[0.018,1.68],[0.008,1.42],[0.015,1.25],[0.01,1.1],[0.012,0.95],[0.015,0.82],[0.01,0.7],[0.012,0.58],[0.015,0.46],[0.01,0.36],[0.035,1.52],[0.03,1.22],[0.035,1.08],[0.04,0.95],[0.04,0.82],[0.045,0.68],[0.04,0.55],[0.045,0.35],[0.07,1.2],[0.075,1.05],[0.065,0.85],[0.07,0.7],[0.07,0.58],[0.07,0.35],[0.095,1.12],[0.105,0.92],[0.1,0.68],[0.1,0.58],[0.11,0.48],[0.105,0.32],[0.13,1.15],[0.135,0.85],[0.14,0.72],[0.14,0.6],[0.15,0.55],[0.16,1.08],[0.165,0.8],[0.17,0.55],[0.18,0.72],[0.19,0.45],[0.2,1.1],[0.215,0.8],[0.21,0.55],[0.23,0.68],[0.24,0.45],[0.25,0.95],[0.26,0.62],[0.28,0.85],[0.3,0.55],[0.31,0.75],[0.33,0.55],[0.38,0.62],[0.4,0.85],[0.41,0.42],[0.45,0.4],[0.48,0.62],[0.51,0.42],[0.54,0.5],[0.55,0.38],[0.56,0.55]
];

const SAMPLE_GREY = '#d3d3d3';
const OBS_BLACK = '#000000';
const MODEL_RED = '#ff0000';
const GRID_MAJOR = '#ececec';
const GRID_MINOR = '#f6f6f6';
const BORDER_GREY = '#a3a3a3';
const ERROR_CAP = 0.45;

function toPoints(values) {
    return values.map((value, i) => ({ x: value, y: altitudes[i] }));
}

function errorBars(low, high) {
    let points = [];
    altitudes.forEach((alt, i) => {
        points.push({ x: low[i], y: alt - ERROR_CAP }, { x: low[i], y: alt + ERROR_CAP }, { x: NaN, y: NaN });
        points.push({ x: low[i], y: alt }, { x: high[i], y: alt }, { x: NaN, y: NaN });
        points.push({ x: high[i], y: alt - ERROR_CAP }, { x: high[i], y: alt + ERROR_CAP }, { x: NaN, y: NaN });
    });
    return {
        data: points,
        showLine: true,
        borderColor: '#000',
        borderWidth: 1.3,
        pointRadius: 0
    };
}

function profileLine(values, color, width, dash) {
    return {
        data: toPoints(values),
        showLine: true,
        borderColor: color,
        borderWidth: width,
        borderDash: dash || [],
        borderJoinStyle: 'round',
        pointRadius: 0
    };
}

function surfaceMarks(values, color) {
    return {
        data: [
            { x: values[0], y: 0 },
            { x: values[1], y: 0 },
            { x: values[2], y: -0.09 }
        ],
        showLine: false,
        pointStyle: ['circle', 'rect', 'triangle'],
        pointRadius: [6.3, 9, 8.5],
        borderColor: color,
        borderWidth: 1.3,
        backgroundColor: 'transparent'
    };
}

function sampleCloud(samples) {
    return {
        data: samples.map(p => ({ x: p[0], y: p[1] })),
        showLine: false,
        pointRadius: 2.1,
        pointBorderWidth: 0,
        backgroundColor: SAMPLE_GREY
    };
}

const panelFrame = {
    id: 'panelFrame',
    afterDraw(chart) {
        const area = chart.chartArea;
        const ctx = chart.ctx;
        ctx.save();
        ctx.strokeStyle = BORDER_GREY;
        ctx.lineWidth = 1.3;
        ctx.strokeRect(area.left, area.top, area.width, area.height);
        ctx.restore();
    }
};

function drawPanel(canvasId, datasets, xRange, xTicks, xLabel, padding, showAltitude) {
    let ctx = document.getElementById(canvasId).getContext('2d');
    new Chart(ctx, {
        type: 'scatter',
        data: { datasets: datasets },
        plugins: [panelFrame],
        options: {
            responsive: false,
            animation: false,
            layout: { autoPadding: false, padding: padding },
            plugins: { legend: { display: false }, tooltip: { enabled: false } },
            scales: {
                x: {
                    type: 'linear',
                    min: xRange[0],
                    max: xRange[1],
                    afterBuildTicks: axis => { axis.ticks = xTicks.map(v => ({ value: v })); },
                    afterFit: axis => {
                        axis.height = 49.7;
                        // tick labels may hang over the panel edge, keep the panels where they are
                        axis.paddingLeft = 0;
                        axis.paddingRight = 0;
                    },
                    border: { display: false },
                    grid: {
                        color: c => c.index % 2 === 0 ? GRID_MAJOR : GRID_MINOR,
                        tickColor: c => c.index % 2 === 0 ? '#444' : 'transparent',
                        tickLength: 4
                    },
                    ticks: {
                        autoSkip: false,
                        maxRotation: 0,
                        padding: 2,
                        color: '#111',
                        font: { family: 'Liberation Sans', size: 14.5 },
                        callback: (value, index) => index % 2 === 0 ? xLabel(value) : ''
                    }
                },
                y: {
                    type: 'linear',
                    min: -0.583,
                    max: 12.565,
                    afterBuildTicks: axis => { axis.ticks = altitudeTicks.map(v => ({ value: v })); },
                    afterFit: axis => { axis.width = showAltitude ? 56.7 : 0; },
                    border: { display: false },
                    grid: {
                        color: c => c.index % 2 === 0 ? GRID_MAJOR : GRID_MINOR,
                        tickColor: c => c.index % 2 === 0 ? '#444' : 'transparent',
                        tickLength: 4,
                        drawTicks: showAltitude
                    },
                    ticks: {
                        display: showAltitude,
                        autoSkip: false,
                        padding: 4,
                        color: '#111',
                        font: { family: 'Liberation Sans', size: 14.5 },
                        callback: (value, index) => index % 2 === 0 ? String(value) : ''
                    }
                }
            }
        }
    });
}

// first dataset ends up on top in Chart.js
drawPanel('sulfateChart', [
    surfaceMarks(sulfateSurfaceModel, MODEL_RED),
    surfaceMarks(sulfateSurfaceObs, '#111'),
    profileLine(sulfateModel, MODEL_RED, 5.5),
    profileLine(sulfateObs, OBS_BLACK, 5.5),
    errorBars(sulfateLow, sulfateHigh),
    sampleCloud(sulfateSamples)
], [-0.215, 4.736], sulfateTicks, v => String(v), { top: 10.7, right: 5.3 }, true);

drawPanel('organicChart', [
    surfaceMarks(organicSurfaceObs, '#111'),
    surfaceMarks(organicSurfaceModel, MODEL_RED),
    profileLine(biogenicSoa, '#2ca02c', 5, [6, 6]),
    profileLine(fireOa, '#f99d31', 5, [6, 6]),
    profileLine(anthroSoa, '#0000ff', 5, [6, 6]),
    profileLine(organicModel, MODEL_RED, 5.5),
    profileLine(organicObs, OBS_BLACK, 5.5),
    errorBars(organicLow, organicHigh),
    sampleCloud(organicSamples)
], [-0.527, 11.0], organicTicks, v => v.toFixed(1), { top: 10.7, left: 2.3, right: 3.3 }, false);

drawPanel('dustChart', [
    surfaceMarks(dustSurfaceObs, '#111'),
    surfaceMarks(dustSurfaceModel, MODEL_RED),
    profileLine(dustModel, MODEL_RED, 5.5),
    profileLine(dustObs, OBS_BLACK, 5.5),
    errorBars(dustLow, dustHigh),
    sampleCloud(dustSamples)
], [-0.049, 1.049], dustTicks, v => v.toFixed(2), { top: 10.7, left: 4.7, right: 1 }, false);
</script>
</body>
</html>
